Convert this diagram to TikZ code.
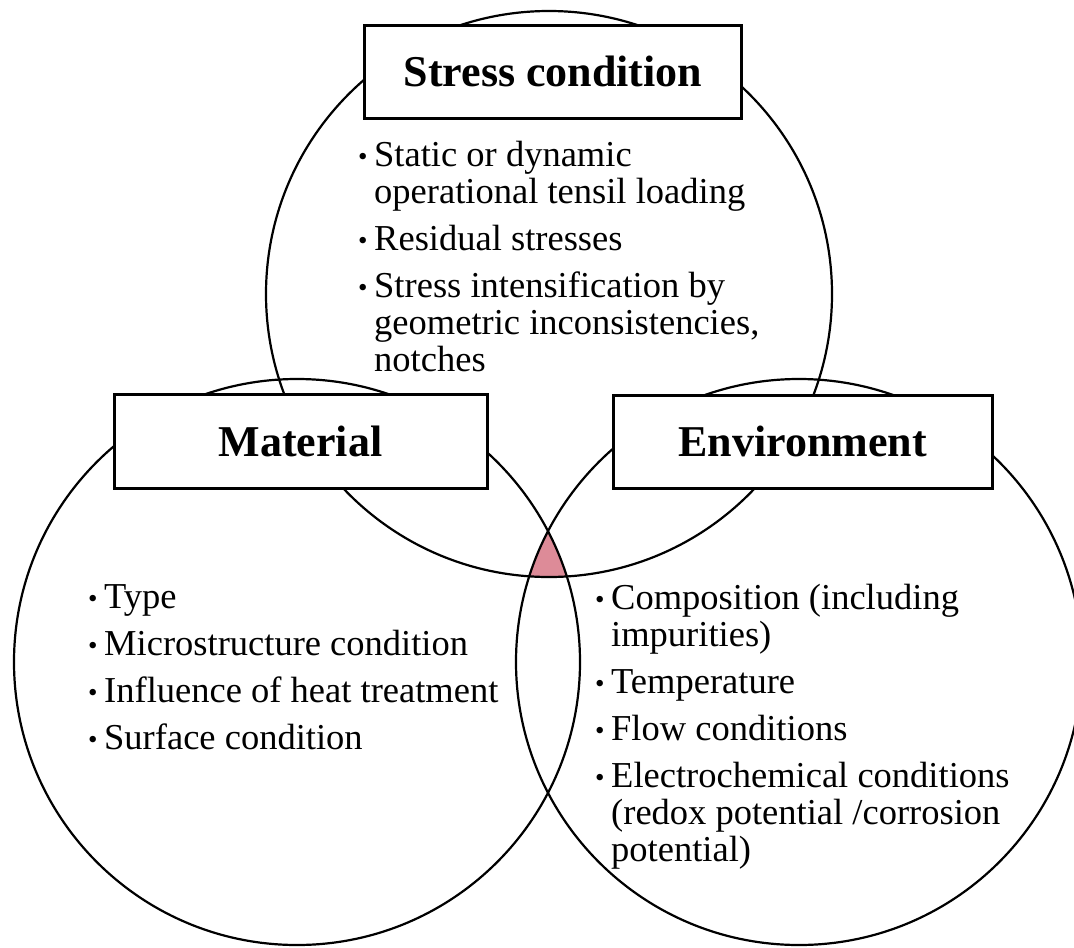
\documentclass[tikz,border=0pt]{standalone}
\usepackage{fontspec}
\setmainfont{Liberation Serif}
\definecolor{lenspink}{RGB}{221,139,152}
\newcommand{\bul}{\makebox[16pt][l]{\fontsize{27}{27}\selectfont\raisebox{1pt}{\textbullet}}}
\newcommand{\cont}{\hspace*{16pt}}
\tikzset{
  venn/.style={line width=2.2pt},
  headbox/.style={draw, line width=3pt, fill=white, inner sep=0pt, font=\fontsize{44}{48}\selectfont\bfseries},
  itemlist/.style={anchor=north west, inner sep=0pt, align=left, font=\fontsize{36.5}{37}\selectfont}
}
\begin{document}
\begin{tikzpicture}[x=1pt, y=-1pt]
% Set the picture size
\clip (0,0) rectangle (1074,948);

% Shade the common part of the three circles
\begin{scope}
\clip (549,294) circle (283);
\clip (297,662) circle (283);
\fill[lenspink] (799,662) circle (283);
\end{scope}

% Draw the three circles
\draw[venn] (549,294) circle (283);
\draw[venn] (297,662) circle (283);
\draw[venn] (799,662) circle (283);

% Insert the headings
\node[headbox, minimum width=377pt, minimum height=93pt] (stresshead) at (553,71.5) {Stress condition};
\node[headbox, minimum width=373pt, minimum height=94pt] (materialhead) at (300.5,441) {Material};
\node[headbox, minimum width=379pt, minimum height=93pt] (envhead) at (802.5,441.5) {Environment};

% Insert the lists
\node[itemlist] (stresslist) at (358,141) {\bul Static or dynamic\\ \cont operational tensil loading\\[10pt] \bul Residual stresses\\[10pt] \bul Stress intensification by\\ \cont geometric inconsistencies,\\ \cont notches};
\node[itemlist] (materiallist) at (88,584) {\bul Type\\[10pt] \bul Microstructure condition\\[10pt] \bul Influence of heat treatment\\[10pt] \bul Surface condition};
\node[itemlist] (envlist) at (595,584) {\bul Composition (including\\ \cont impurities)\\[10pt] \bul Temperature\\[10pt] \bul Flow conditions\\[10pt] \bul Electrochemical conditions\\ \cont (redox potential /corrosion\\ \cont potential)};
\end{tikzpicture}
\end{document}
